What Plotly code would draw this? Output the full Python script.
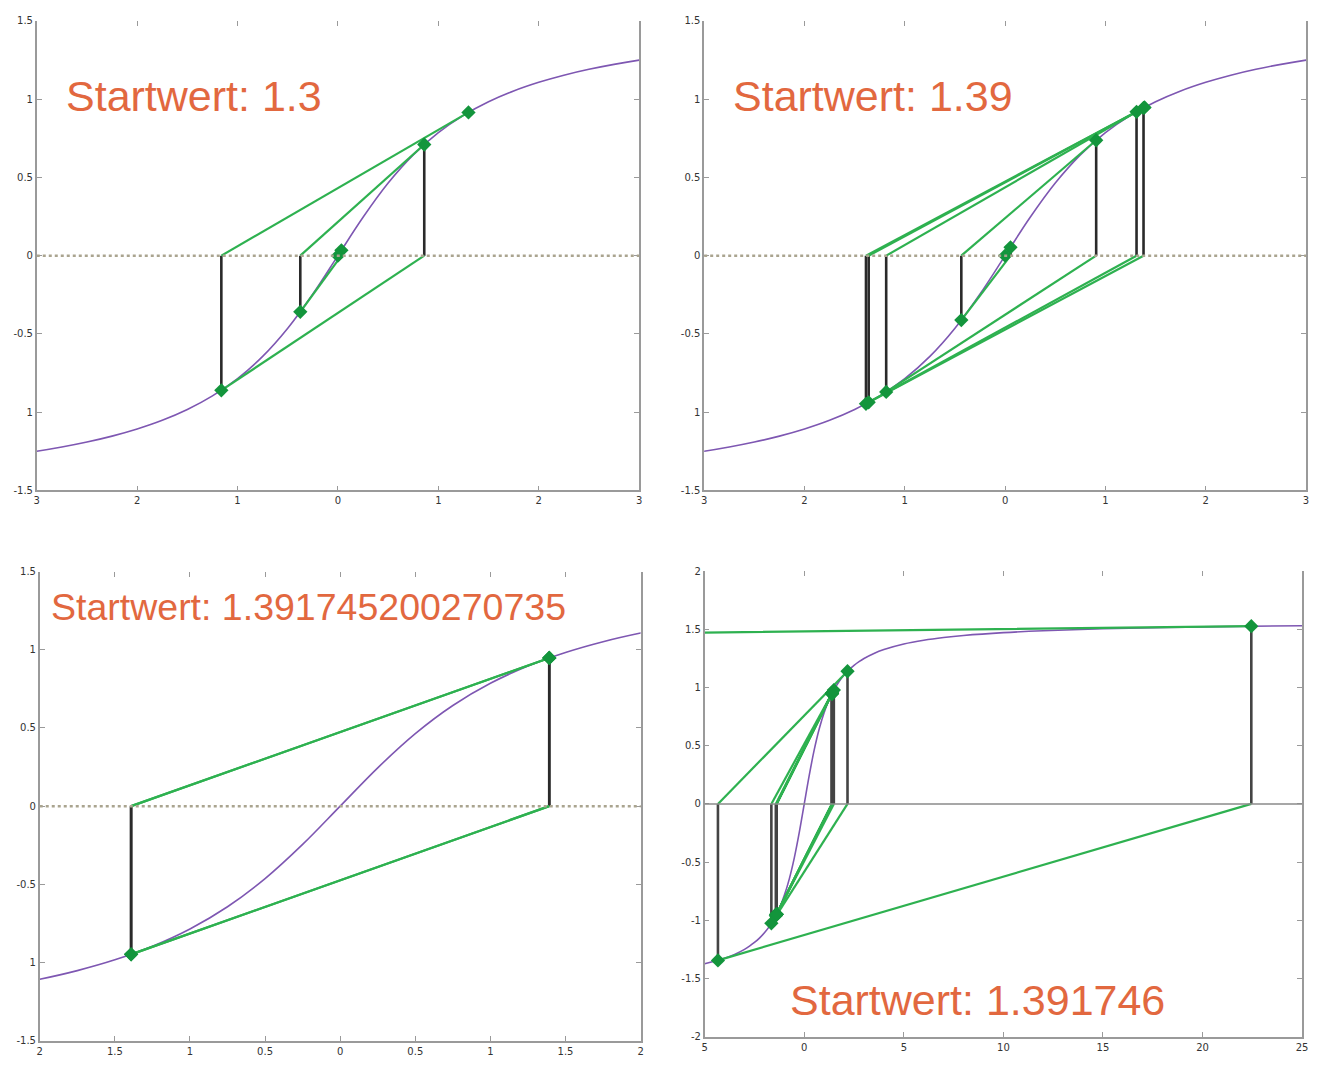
import plotly.graph_objects as go

# ---- curve samples (arctan shape) ----
curve_x = [-5, -4, -3.5, -3, -2.75, -2.5, -2.25, -2, -1.75, -1.5, -1.25, -1, -0.75, -0.5, -0.25,
           0, 0.25, 0.5, 0.75, 1, 1.25, 1.5, 1.75, 2, 2.25, 2.5, 2.75, 3, 3.5, 4, 5, 6, 7, 8, 10, 12, 15, 20, 25]
curve_y = [-1.3734, -1.3258, -1.2925, -1.2490, -1.2220, -1.1903, -1.1526, -1.1071, -1.0517, -0.9828, -0.8961,
           -0.7854, -0.6435, -0.4636, -0.2450,
           0, 0.2450, 0.4636, 0.6435, 0.7854, 0.8961, 0.9828, 1.0517, 1.1071, 1.1526, 1.1903, 1.2220, 1.2490,
           1.2925, 1.3258, 1.3734, 1.4056, 1.4289, 1.4464, 1.4711, 1.4877, 1.5042, 1.5208, 1.5308]

# ---- iterates per panel ----
labels = ["Startwert: 1.3", "Startwert: 1.39", "Startwert: 1.391745200270735", "Startwert: 1.391746"]

it1_x = [1.3, -1.1616, 0.8597, -0.3751, 0.0343, -0.00003]
it1_y = [0.9151, -0.8603, 0.7100, -0.3589, 0.0343, -0.00003]

it2_x = [1.39, -1.38717, 1.37971, -1.36022, 1.31002, -1.18566, 0.90771, -0.43668, 0.05355, -0.0001]
it2_y = [0.94716, -0.94619, 0.94363, -0.93686, 0.91883, -0.87014, 0.73708, -0.41172, 0.05350, -0.0001]

it3_x = [1.391745, -1.391745, 1.391745, -1.391745, 1.391745]
it3_y = [0.94775, -0.94775, 0.94775, -0.94775, 0.94775]

it4_x = [1.391746, -1.391748, 1.391751, -1.391760, 1.391784, -1.391848, 1.392016, -1.392460,
         1.393632, -1.39675, 1.4051, -1.427, 1.4855, -1.652, 2.172, -4.334, 22.45, -748.0]
it4_y = [0.94775, -0.94775, 0.94775, -0.94776, 0.94777, -0.94779, 0.94785, -0.94800,
         0.94839, -0.94945, 0.95229, -0.95955, 0.97825, -1.0254, 1.1396, -1.3440, 1.5263, -1.5695]

iterates = [(it1_x, it1_y), (it2_x, it2_y), (it3_x, it3_y), (it4_x, it4_y)]

# ---- axes ----
x_ranges = [[-3, 3], [-3, 3], [-2, 2], [-5, 25]]
y_ranges = [[-1.5, 1.5], [-1.5, 1.5], [-1.5, 1.5], [-2, 2]]
x_tickvals = [[-3, -2, -1, 0, 1, 2, 3], [-3, -2, -1, 0, 1, 2, 3],
              [-2, -1.5, -1, -0.5, 0, 0.5, 1, 1.5, 2], [-5, 0, 5, 10, 15, 20, 25]]
x_ticktext = [["3", "2", "1", "0", "1", "2", "3"], ["3", "2", "1", "0", "1", "2", "3"],
              ["2", "1.5", "1", "0.5", "0", "0.5", "1", "1.5", "2"], ["5", "0", "5", "10", "15", "20", "25"]]
y_tickvals = [[-1.5, -1, -0.5, 0, 0.5, 1, 1.5]] * 3 + [[-2, -1.5, -1, -0.5, 0, 0.5, 1, 1.5, 2]]
y_ticktext = [["-1.5", "1", "-0.5", "0", "0.5", "1", "1.5"]] * 3 + \
             [["-2", "-1.5", "-1", "-0.5", "0", "0.5", "1", "1.5", "2"]]

W, H = 1321, 1066
dom_x = [[34 / W, 640.5 / W], [706 / W, 1312 / W], [37 / W, 642 / W], [706.5 / W, 1308 / W]]
dom_y = [[1 - 490 / H, 1 - 15 / H], [1 - 490 / H, 1 - 15 / H],
         [1 - 1046.5 / H, 1 - 572 / H], [1 - 1042.5 / H, 1 - 571.5 / H]]
label_pos = [(61 / W, 1 - 91 / H, 43), (733 / W, 1 - 91 / H, 43), (46 / W, 1 - 608 / H, 37.5),
             (790 / W, 1 - 1005 / H, 43)]

PURPLE = "#7e57b2"
GREEN = "#2eb150"
DGREEN = "#13953c"
BLACK = "#2a2a2a"
ORANGE = "#e2683f"
AXC = "#9a9a9a"

fig = go.Figure()
layout = dict(width=W, height=H, autosize=False, margin=dict(l=0, r=0, t=0, b=0),
              paper_bgcolor="white", plot_bgcolor="white", showlegend=False,
              annotations=[], shapes=[])

for i in range(4):
    xa = "x" if i == 0 else f"x{i+1}"
    ya = "y" if i == 0 else f"y{i+1}"
    xtop = f"x{i+5}"
    xs, ys = iterates[i]
    # curve
    fig.add_trace(go.Scatter(x=curve_x, y=curve_y, mode="lines", line=dict(color=PURPLE, width=1.6, shape="spline"),
                             xaxis=xa, yaxis=ya, hoverinfo="skip"))
    # zero line
    layout["shapes"].append(dict(type="line", xref=f"{xa} domain", yref=ya, x0=0, x1=1, y0=0, y1=0,
                                 line=dict(color="#8a8a8a" if i == 3 else "#aaa48f", width=1.5 if i == 3 else 2.5,
                                           dash="solid" if i == 3 else "dot"), layer="above"))
    # vertical lines (iterates n >= 1)
    vx, vy = [], []
    for k in range(1, len(xs)):
        vx += [xs[k], xs[k], None]
        vy += [0, ys[k], None]
    fig.add_trace(go.Scatter(x=vx, y=vy, mode="lines", line=dict(color=BLACK if i < 3 else "#444", width=2.6),
                             xaxis=xa, yaxis=ya, hoverinfo="skip"))
    # tangent lines
    tx, ty = [], []
    for k in range(len(xs) - 1):
        tx += [xs[k], xs[k + 1], None]
        ty += [ys[k], 0, None]
    fig.add_trace(go.Scatter(x=tx, y=ty, mode="lines", line=dict(color=GREEN, width=2.2),
                             xaxis=xa, yaxis=ya, hoverinfo="skip"))
    # markers
    fig.add_trace(go.Scatter(x=xs, y=ys, mode="markers",
                             marker=dict(symbol="diamond", size=11, color=DGREEN, line=dict(width=0)),
                             xaxis=xa, yaxis=ya, hoverinfo="skip", cliponaxis=True))
    # invisible trace so the top tick axis is drawn
    fig.add_trace(go.Scatter(x=xs, y=ys, mode="markers", marker=dict(opacity=0),
                             xaxis=xtop, yaxis=ya, hoverinfo="skip"))

    key_x = "xaxis" if i == 0 else f"xaxis{i+1}"
    key_y = "yaxis" if i == 0 else f"yaxis{i+1}"
    layout[key_x] = dict(domain=dom_x[i], range=x_ranges[i], anchor=ya, showgrid=False, zeroline=False,
                         showline=True, linecolor=AXC, linewidth=1.6, ticks="inside", ticklen=5, tickcolor=AXC,
                         tickvals=x_tickvals[i], ticktext=x_ticktext[i],
                         tickfont=dict(family="DejaVu Sans", size=10, color="#333"))
    layout[key_y] = dict(domain=dom_y[i], range=y_ranges[i], anchor=xa, showgrid=False, zeroline=False,
                         showline=True, linecolor=AXC, linewidth=1.6, ticks="inside", ticklen=5, tickcolor=AXC,
                         mirror="ticks", tickvals=y_tickvals[i], ticktext=y_ticktext[i],
                         tickfont=dict(family="DejaVu Sans", size=10, color="#333"))
    # top ticks only (no line)
    layout[f"xaxis{i+5}"] = dict(overlaying=xa, side="top", anchor=ya, range=x_ranges[i], showgrid=False,
                                 zeroline=False, showline=False, ticks="inside", ticklen=5, tickcolor=AXC,
                                 tickvals=x_tickvals[i], showticklabels=False)
    lx, ly, fs = label_pos[i]
    layout["annotations"].append(dict(text=labels[i], xref="paper", yref="paper", x=lx, y=ly,
                                      xanchor="left", yanchor="middle", showarrow=False,
                                      font=dict(family="Liberation Sans", size=fs, color=ORANGE)))

fig.update_layout(**layout)
fig.write_html("out.html", post_script="document.body.style.margin='0';",
               config={"displayModeBar": False})
